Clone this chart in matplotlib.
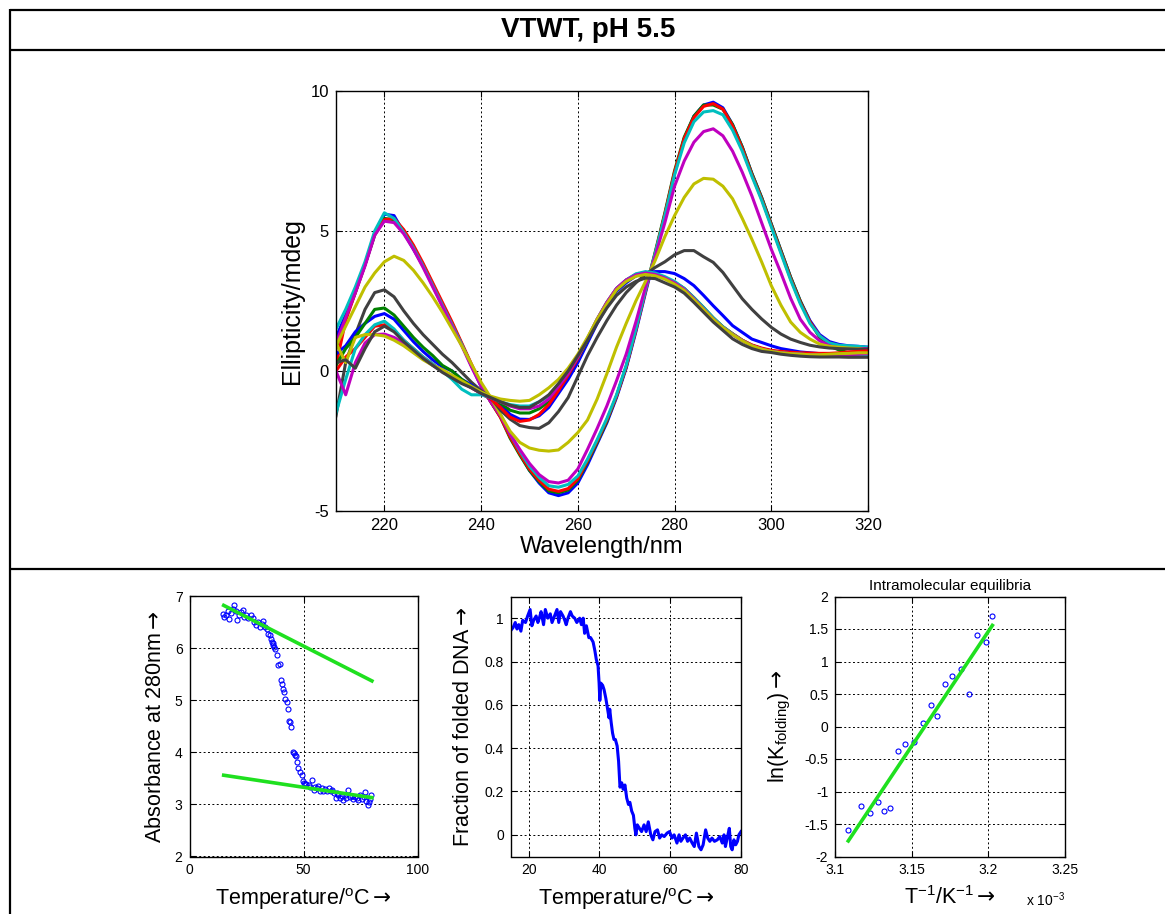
import matplotlib
matplotlib.use('Agg')
import matplotlib.pyplot as plt
from matplotlib.lines import Line2D
from matplotlib.ticker import FormatStrFormatter

plt.rcParams['font.family'] = ['Liberation Sans', 'DejaVu Sans']
plt.rcParams['mathtext.fontset'] = 'custom'
plt.rcParams['mathtext.rm'] = 'Liberation Sans'
plt.rcParams['mathtext.it'] = 'Liberation Sans:italic'
plt.rcParams['mathtext.bf'] = 'Liberation Sans:bold'
plt.rcParams['mathtext.sf'] = 'DejaVu Sans'
plt.rcParams['axes.unicode_minus'] = False

# ---------------- data: CD spectra ----------------
wavelength = [210, 212, 214, 216, 218, 220, 222, 224, 226, 228, 230, 232, 234, 236,
              238, 240, 242, 244, 246, 248, 250, 252, 254, 256, 258, 260, 262, 264,
              266, 268, 270, 272, 274, 276, 278, 280, 282, 284, 286, 288, 290, 292,
              294, 296, 298, 300, 302, 304, 306, 308, 310, 312, 314, 316, 318, 320]

blue_1 = [1.2, 2.0, 2.9, 3.8, 4.9, 5.6, 5.55, 4.95, 4.35, 3.75, 3.05, 2.35, 1.65, 0.95, 0.2, -0.55, -1.1, -1.6, -2.3, -2.95, -3.55, -4.0, -4.35, -4.45, -4.35, -4.0, -3.35, -2.6, -1.85, -0.95, 0.1, 1.4, 2.8, 4.15, 5.55, 7.05, 8.3, 9.1, 9.5, 9.6, 9.4, 8.8, 8.0, 7.05, 6.2, 5.25, 4.3, 3.35, 2.5, 1.8, 1.3, 1.05, 0.95, 0.9, 0.88, 0.85]
green_1 = [0.8, 1.9, 2.8, 3.8, 4.85, 5.45, 5.4, 5.0, 4.4, 3.8, 3.1, 2.4, 1.7, 0.95, 0.2, -0.5, -1.1, -1.65, -2.4, -3.0, -3.55, -3.95, -4.28, -4.35, -4.25, -3.9, -3.25, -2.55, -1.8, -0.9, 0.15, 1.5, 2.9, 4.25, 5.65, 7.15, 8.35, 9.1, 9.5, 9.5, 9.35, 8.8, 8.0, 7.05, 6.2, 5.25, 4.3, 3.35, 2.5, 1.75, 1.2, 0.9, 0.75, 0.65, 0.6, 0.6]
red_1 = [0.2, 1.8, 2.8, 3.8, 4.9, 5.4, 5.45, 5.05, 4.5, 3.85, 3.15, 2.45, 1.75, 1.0, 0.25, -0.5, -1.1, -1.65, -2.35, -2.95, -3.5, -3.9, -4.22, -4.3, -4.2, -3.85, -3.2, -2.5, -1.75, -0.9, 0.15, 1.45, 2.85, 4.2, 5.6, 7.1, 8.3, 9.05, 9.45, 9.55, 9.35, 8.75, 7.95, 7.0, 6.15, 5.2, 4.25, 3.3, 2.45, 1.75, 1.25, 1.0, 0.9, 0.87, 0.85, 0.8]
cyan_1 = [1.5, 2.2, 3.0, 3.9, 5.0, 5.65, 5.45, 4.95, 4.4, 3.75, 3.05, 2.35, 1.65, 0.95, 0.2, -0.5, -1.05, -1.55, -2.25, -2.85, -3.4, -3.8, -4.1, -4.15, -4.05, -3.75, -3.15, -2.45, -1.7, -0.85, 0.2, 1.5, 2.9, 4.2, 5.55, 7.0, 8.15, 8.9, 9.25, 9.3, 9.15, 8.6, 7.85, 6.95, 6.1, 5.15, 4.2, 3.25, 2.4, 1.7, 1.25, 1.0, 0.92, 0.9, 0.88, 0.85]
magenta_1 = [1.0, 1.9, 2.8, 3.75, 4.85, 5.35, 5.3, 4.9, 4.35, 3.7, 3.0, 2.3, 1.6, 0.9, 0.15, -0.55, -1.1, -1.6, -2.25, -2.8, -3.3, -3.7, -3.95, -4.0, -3.9, -3.5, -2.8, -2.05, -1.25, -0.35, 0.6, 1.75, 3.0, 4.1, 5.3, 6.6, 7.5, 8.17, 8.55, 8.65, 8.4, 7.85, 7.1, 6.25, 5.3, 4.35, 3.5, 2.6, 1.85, 1.38, 1.08, 0.9, 0.82, 0.8, 0.8, 0.8]
yellow_1 = [0.9, 1.6, 2.3, 3.0, 3.5, 3.9, 4.1, 3.95, 3.6, 3.15, 2.65, 2.1, 1.5, 0.9, 0.25, -0.4, -0.95, -1.55, -2.15, -2.55, -2.75, -2.83, -2.86, -2.82, -2.55, -2.2, -1.75, -1.0, -0.1, 0.85, 1.7, 2.5, 3.2, 3.95, 4.8, 5.55, 6.2, 6.68, 6.88, 6.85, 6.6, 6.15, 5.45, 4.7, 3.9, 3.05, 2.35, 1.75, 1.38, 1.14, 0.96, 0.88, 0.85, 0.82, 0.8, 0.75]
grey_1 = [-1.6, 0.3, 1.3, 2.2, 2.8, 2.9, 2.65, 2.15, 1.7, 1.3, 0.95, 0.6, 0.3, -0.05, -0.4, -0.7, -0.95, -1.4, -1.72, -1.95, -2.02, -2.05, -1.85, -1.45, -0.95, -0.2, 0.55, 1.2, 1.8, 2.35, 2.8, 3.15, 3.45, 3.7, 3.9, 4.15, 4.3, 4.3, 4.08, 3.88, 3.52, 3.05, 2.58, 2.2, 1.86, 1.56, 1.32, 1.14, 1.02, 0.92, 0.86, 0.82, 0.8, 0.79, 0.78, 0.78]
blue_2 = [0.6, 0.9, 1.4, 1.7, 1.95, 2.05, 1.85, 1.45, 1.05, 0.7, 0.4, 0.15, 0.0, -0.3, -0.5, -0.8, -1.0, -1.2, -1.55, -1.72, -1.73, -1.6, -1.3, -0.8, -0.3, 0.3, 1.0, 1.7, 2.3, 2.85, 3.15, 3.4, 3.5, 3.55, 3.55, 3.48, 3.3, 3.05, 2.7, 2.33, 1.98, 1.62, 1.38, 1.14, 1.02, 0.9, 0.8, 0.74, 0.68, 0.65, 0.62, 0.6, 0.6, 0.6, 0.6, 0.6]
green_2 = [0.2, 0.8, 1.2, 1.7, 2.2, 2.25, 2.0, 1.6, 1.2, 0.85, 0.55, 0.2, 0.0, -0.3, -0.55, -0.8, -0.95, -1.15, -1.4, -1.5, -1.5, -1.35, -1.1, -0.65, -0.15, 0.45, 1.1, 1.8, 2.4, 2.9, 3.2, 3.4, 3.5, 3.45, 3.32, 3.17, 2.95, 2.62, 2.27, 1.9, 1.58, 1.33, 1.1, 0.92, 0.8, 0.72, 0.66, 0.63, 0.6, 0.58, 0.57, 0.56, 0.56, 0.55, 0.55, 0.55]
red_2 = [0.0, 0.5, 0.8, 1.2, 1.6, 1.65, 1.45, 1.1, 0.8, 0.5, 0.25, 0.0, -0.2, -0.4, -0.6, -0.8, -1.0, -1.3, -1.65, -1.8, -1.75, -1.55, -1.2, -0.7, -0.15, 0.45, 1.15, 1.85, 2.45, 2.95, 3.25, 3.45, 3.52, 3.47, 3.33, 3.15, 2.93, 2.6, 2.23, 1.87, 1.57, 1.33, 1.1, 0.93, 0.82, 0.74, 0.7, 0.67, 0.65, 0.64, 0.63, 0.63, 0.65, 0.68, 0.7, 0.72]
cyan_2 = [-1.5, -0.3, 0.8, 1.3, 1.65, 1.78, 1.5, 1.1, 0.8, 0.5, 0.25, 0.0, -0.3, -0.65, -0.85, -0.85, -0.95, -1.1, -1.2, -1.25, -1.25, -1.1, -0.9, -0.5, -0.05, 0.5, 1.15, 1.85, 2.45, 2.95, 3.25, 3.47, 3.55, 3.5, 3.37, 3.2, 2.95, 2.62, 2.27, 1.9, 1.58, 1.32, 1.08, 0.9, 0.78, 0.7, 0.65, 0.62, 0.6, 0.58, 0.57, 0.56, 0.56, 0.55, 0.55, 0.55]
magenta_2 = [0.0, -0.85, 0.3, 1.0, 1.3, 1.32, 1.2, 1.0, 0.7, 0.45, 0.2, 0.0, -0.2, -0.4, -0.6, -0.8, -0.95, -1.1, -1.25, -1.35, -1.35, -1.25, -1.0, -0.55, -0.1, 0.5, 1.15, 1.85, 2.45, 2.95, 3.25, 3.43, 3.5, 3.45, 3.32, 3.15, 2.92, 2.58, 2.22, 1.86, 1.55, 1.3, 1.08, 0.9, 0.78, 0.7, 0.65, 0.62, 0.6, 0.58, 0.57, 0.57, 0.57, 0.58, 0.6, 0.62]
yellow_2 = [1.0, 0.3, 1.2, 1.3, 1.3, 1.25, 1.1, 0.9, 0.65, 0.4, 0.2, 0.05, -0.15, -0.35, -0.55, -0.75, -0.9, -1.0, -1.05, -1.08, -1.05, -0.85, -0.6, -0.3, 0.1, 0.6, 1.2, 1.85, 2.4, 2.9, 3.2, 3.38, 3.45, 3.4, 3.28, 3.1, 2.88, 2.55, 2.2, 1.85, 1.55, 1.3, 1.08, 0.9, 0.78, 0.7, 0.65, 0.62, 0.6, 0.58, 0.58, 0.6, 0.62, 0.63, 0.65, 0.65]
grey_2 = [0.3, 0.4, 0.1, 0.8, 1.4, 1.6, 1.4, 1.05, 0.75, 0.45, 0.2, -0.05, -0.25, -0.45, -0.6, -0.8, -0.95, -1.1, -1.22, -1.3, -1.3, -1.1, -0.85, -0.45, 0.0, 0.55, 1.1, 1.7, 2.25, 2.7, 3.0, 3.2, 3.32, 3.3, 3.15, 3.0, 2.78, 2.45, 2.1, 1.75, 1.45, 1.15, 0.95, 0.8, 0.7, 0.66, 0.6, 0.56, 0.53, 0.51, 0.5, 0.5, 0.5, 0.49, 0.49, 0.49]

# ---------------- data: absorbance melt ----------------
abs_temp = [14.6, 15.3, 16.0, 16.7, 17.5, 18.2, 18.9, 19.7, 20.4, 21.0,
            21.9, 22.6, 23.3, 24.0, 24.8, 25.8, 27.0, 27.7, 28.4, 29.2,
            30.2, 30.9, 31.7, 32.4, 33.1, 33.9, 34.6, 35.3, 35.8, 36.1,
            36.5, 36.8, 37.2, 37.7, 38.3, 38.7, 39.5, 40.1, 40.5, 41.0,
            41.5, 42.0, 42.7, 43.2, 43.7, 44.2, 44.6, 45.4, 45.8, 46.2,
            46.7, 47.1, 47.8, 48.6, 49.3, 49.7, 50.0, 50.5, 51.2, 52.2,
            52.9, 53.8, 54.4, 55.1, 55.8, 56.5, 57.3, 58.0, 58.7, 59.4,
            60.2, 61.2, 61.9, 62.7, 63.4, 64.3, 64.6, 65.3, 66.0, 66.8,
            67.5, 68.2, 68.7, 69.7, 70.4, 71.2, 71.9, 72.7, 73.4, 74.1,
            74.6, 75.6, 76.4, 77.1, 77.6, 78.1, 78.6, 79.1, 79.7]
abs_value = [6.66, 6.60, 6.64, 6.71, 6.55, 6.68, 6.76, 6.83, 6.71, 6.53,
             6.64, 6.69, 6.74, 6.60, 6.63, 6.57, 6.64, 6.58, 6.50, 6.44,
             6.50, 6.41, 6.47, 6.52, 6.41, 6.36, 6.28, 6.26, 6.18, 6.12,
             6.05, 6.09, 6.02, 5.99, 5.86, 5.67, 5.70, 5.38, 5.32, 5.22,
             5.16, 5.03, 4.97, 4.84, 4.61, 4.59, 4.49, 4.01, 3.98, 3.95,
             3.92, 3.82, 3.69, 3.63, 3.56, 3.45, 3.42, 3.39, 3.40, 3.37,
             3.34, 3.47, 3.28, 3.34, 3.31, 3.36, 3.25, 3.31, 3.25, 3.30,
             3.25, 3.31, 3.26, 3.28, 3.21, 3.13, 3.21, 3.18, 3.12, 3.17,
             3.09, 3.18, 3.13, 3.28, 3.15, 3.17, 3.10, 3.15, 3.12, 3.09,
             3.18, 3.10, 3.15, 3.23, 3.07, 2.99, 3.05, 3.10, 3.18]
baseline_temp = [15, 80]
upper_baseline = [6.82, 5.37]
lower_baseline = [3.56, 3.13]

# ---------------- data: fraction folded ----------------
frac_temp = [14.8, 15.6, 16.2, 16.7, 17.2, 17.8, 18.3, 19.1, 19.7, 20.4,
             20.9, 21.4, 22.1, 22.6, 23.0, 23.5, 24.2, 24.7, 25.4, 26.1,
             26.6, 27.3, 28.0, 28.5, 29.0, 29.7, 30.2, 30.6, 31.1, 31.8,
             32.3, 33.0, 33.6, 34.4, 34.9, 35.4, 35.8, 36.3, 37.0, 37.5,
             38.2, 38.7, 39.1, 39.6, 39.9, 40.1, 40.4, 40.9, 41.3, 41.8,
             42.3, 42.7, 42.9, 43.3, 43.7, 44.1, 44.5, 45.0, 45.4, 45.8,
             46.3, 46.7, 47.2, 47.7, 48.2, 48.6, 49.1, 49.6, 50.0, 50.3,
             50.7, 51.3, 51.9, 52.6, 53.2, 53.8, 54.5, 55.1, 55.7, 56.4,
             57.0, 57.6, 58.3, 59.1, 59.8, 60.5, 61.1, 61.9, 62.5, 63.0,
             63.6, 64.3, 64.9, 65.5, 66.2, 66.8, 67.4, 68.1, 68.7, 69.3,
             70.0, 70.6, 71.2, 71.8, 72.5, 73.3, 74.0, 74.7, 75.2, 75.6,
             76.1, 76.7, 77.1, 77.5, 78.0, 78.5, 79.0, 79.4, 80.0]
frac_folded = [0.94, 0.957, 0.98, 0.95, 0.97, 0.94, 0.99, 0.98, 1.01, 1.04,
               0.965, 0.99, 1.01, 0.98, 1.0, 1.03, 0.97, 1.04, 1.0, 1.02,
               0.98, 1.01, 1.04, 0.98, 1.03, 1.01, 0.99, 0.97, 1.0, 1.03,
               1.01, 1.0, 0.98, 1.0, 0.97, 1.0, 0.93, 0.965, 0.91, 0.91,
               0.89, 0.85, 0.81, 0.78, 0.70, 0.62, 0.70, 0.69, 0.67, 0.63,
               0.58, 0.54, 0.58, 0.52, 0.47, 0.44, 0.44, 0.41, 0.34, 0.22,
               0.24, 0.21, 0.23, 0.17, 0.14, 0.15, 0.11, 0.09, 0.03, 0.0,
               0.046, 0.03, 0.015, 0.046, 0.015, 0.06, 0.0, -0.023, 0.015, 0.023,
               -0.015, 0.0, -0.008, 0.008, 0.015, -0.015, 0.0, -0.038, 0.0, -0.03,
               -0.015, 0.0, -0.03, -0.015, -0.038, -0.054, 0.008, -0.054, -0.069, -0.046,
               0.023, -0.015, -0.03, -0.015, -0.03, -0.023, -0.008, -0.038, 0.0, -0.054,
               -0.015, 0.03, -0.054, -0.069, -0.023, -0.046, -0.03, 0.0, 0.015]

# ---------------- data: van't Hoff ----------------
inv_temp = [3.1083, 3.1168, 3.1227, 3.1280, 3.1317, 3.1356, 3.1409, 3.1459, 3.1514, 3.1575,
            3.1623, 3.1662, 3.1715, 3.1761, 3.1822, 3.1877, 3.1929, 3.1984, 3.2027]
ln_k = [-1.595, -1.226, -1.333, -1.154, -1.303, -1.256, -0.374, -0.267, -0.241, 0.051,
        0.328, 0.159, 0.651, 0.774, 0.882, 0.497, 1.41, 1.303, 1.703]
fit_inv_temp = [3.1085, 3.2027]
fit_ln_k = [-1.76, 1.555]

# ---------------- figure ----------------
W, H = 1165, 914
fig = plt.figure(figsize=(W / 100, H / 100), dpi=100)
ARROW = r'$\mathsf{\rightarrow}$'


def ax_px(left, top, right, bottom):
    return fig.add_axes([left / W, 1 - bottom / H, (right - left) / W, (bottom - top) / H])


def style(ax, fs):
    ax.tick_params(direction='in', length=4, width=0.8, top=True, right=True,
                   labelsize=fs, pad=5, colors='k')
    ax.grid(True, color='k', linestyle=(0, (2, 2.5)), linewidth=0.7)
    for s in ax.spines.values():
        s.set_linewidth(1.0)


def frame_line(x0, y0, x1, y1):
    fig.add_artist(Line2D([x0 / W, x1 / W], [1 - y0 / H, 1 - y1 / H], color='k',
                          lw=1.6, transform=fig.transFigure, solid_capstyle='butt'))


frame_line(10, 10, W, 10)
frame_line(10, 50, W, 50)
frame_line(10, 569, W, 569)
frame_line(10, 9, 10, H)

fig.text(588 / W, 1 - 30 / H, 'VTWT, pH 5.5', ha='center', va='center',
         fontsize=20, fontweight='bold')

# top CD panel
C_B, C_G, C_R = (0, 0, 1), (0, 0.5, 0), (1, 0, 0)
C_C, C_M, C_Y, C_K = (0, 0.75, 0.75), (0.75, 0, 0.75), (0.75, 0.75, 0), (0.25, 0.25, 0.25)
spectra = [(blue_1, C_B), (green_1, C_G), (red_1, C_R), (cyan_1, C_C), (magenta_1, C_M),
           (yellow_1, C_Y), (grey_1, C_K), (blue_2, C_B), (green_2, C_G), (red_2, C_R),
           (cyan_2, C_C), (magenta_2, C_M), (yellow_2, C_Y), (grey_2, C_K)]

ax = ax_px(336, 91, 868, 511)
for vals, col in spectra:
    ax.plot(wavelength, vals, color=col, lw=2.2)
ax.set_xlim(210, 320)
ax.set_ylim(-5, 10)
ax.set_xticks([220, 240, 260, 280, 300, 320])
ax.set_yticks([-5, 0, 5, 10])
style(ax, 12)
ax.set_xlabel('Wavelength/nm', fontsize=17, labelpad=2)
ax.set_ylabel('Ellipticity/mdeg', fontsize=18, labelpad=5)

# absorbance panel
ax1 = ax_px(189.5, 596, 417.5, 856.5)
ax1.plot(abs_temp, abs_value, 'o', mfc='none', mec='b', ms=3.6, mew=0.8)
ax1.plot(baseline_temp, upper_baseline, color='#1fe01f', lw=2.6)
ax1.plot(baseline_temp, lower_baseline, color='#1fe01f', lw=2.6)
ax1.set_xlim(0, 100)
ax1.set_ylim(2, 7)
ax1.set_xticks([0, 50, 100])
ax1.set_yticks([2, 3, 4, 5, 6, 7])
style(ax1, 10)
ax1.set_xlabel('Temperature/$^{\\mathrm{o}}$C' + ARROW, fontsize=15.5, labelpad=6)
ax1.set_ylabel('Absorbance at 280nm' + ARROW, fontsize=15.5, labelpad=6)

# fraction folded panel
ax2 = ax_px(511, 596.5, 741, 856.5)
ax2.plot(frac_temp, frac_folded, color='b', lw=2.2)
ax2.set_xlim(15, 80)
ax2.set_ylim(-0.1, 1.1)
ax2.set_xticks([20, 40, 60, 80])
ax2.set_yticks([0, 0.2, 0.4, 0.6, 0.8, 1.0])
ax2.yaxis.set_major_formatter(FormatStrFormatter('%g'))
style(ax2, 10)
ax2.set_xlabel('Temperature/$^{\\mathrm{o}}$C' + ARROW, fontsize=15.5, labelpad=6)
ax2.set_ylabel('Fraction of folded DNA' + ARROW, fontsize=15.5, labelpad=8)

# van't Hoff panel
ax3 = ax_px(835.3, 596.5, 1064.7, 856.5)
ax3.plot(inv_temp, ln_k, 'o', mfc='none', mec='b', ms=3.6, mew=0.8)
ax3.plot(fit_inv_temp, fit_ln_k, color='#1fe01f', lw=2.6)
ax3.set_xlim(3.1, 3.25)
ax3.set_ylim(-2, 2)
ax3.set_xticks([3.1, 3.15, 3.2, 3.25])
ax3.set_yticks([-2, -1.5, -1, -0.5, 0, 0.5, 1, 1.5, 2])
ax3.xaxis.set_major_formatter(FormatStrFormatter('%g'))
ax3.yaxis.set_major_formatter(FormatStrFormatter('%g'))
style(ax3, 10)
ax3.set_title('Intramolecular equilibria', fontsize=11, pad=5)
ax3.set_xlabel('T$^{\\mathrm{-1}}$/K$^{\\mathrm{-1}}$' + ARROW, fontsize=15.5, labelpad=6)
ax3.set_ylabel('ln(K$_{\\mathrm{folding}}$)' + ARROW, fontsize=15.5, labelpad=8)
fig.text(1026 / W, 1 - 906 / H, 'x 10$^{\\mathrm{-3}}$', fontsize=10, ha='left', va='baseline')

fig.savefig('out.png', dpi=100)
